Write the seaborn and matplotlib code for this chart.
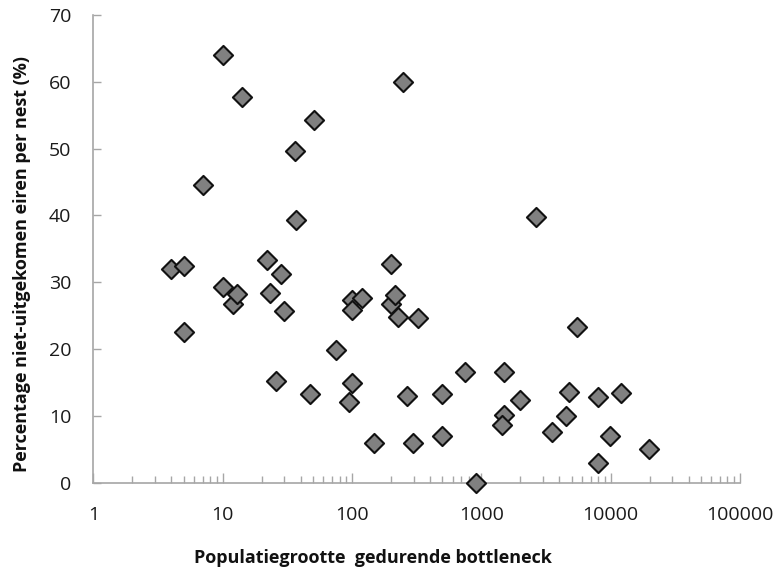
import numpy as np
import pandas as pd
import matplotlib
matplotlib.use("Agg")
import matplotlib.pyplot as plt
from matplotlib.ticker import LogLocator, FixedLocator, NullFormatter
import seaborn as sns

# Population size during the bottleneck and % of unhatched eggs per nest
population = [4, 5, 5, 7, 10, 10, 12, 13, 14, 22, 23, 28, 30, 26, 36, 37, 51, 47,
              75, 99, 120, 99, 99, 95, 148, 199, 199, 215, 228, 249, 323, 264, 297,
              747, 493, 493, 908, 1500, 1500, 1450, 1990, 2630, 3500, 4490, 4760,
              5460, 7980, 7980, 9880, 12000, 19900]
unhatched = [32.0, 32.5, 22.5, 44.6, 64.0, 29.3, 26.7, 28.2, 57.8, 33.3, 28.4, 31.2,
             25.7, 15.2, 49.7, 39.3, 54.3, 13.2, 19.9, 27.3, 27.6, 25.8, 14.9, 12.1,
             6.0, 32.8, 26.7, 28.1, 24.8, 60.0, 24.6, 13.0, 5.9, 16.5, 13.2, 7.0, 0.0,
             16.6, 10.1, 8.6, 12.4, 39.8, 7.6, 9.9, 13.6, 23.3, 12.8, 3.0, 7.0, 13.4,
             5.0]

x_ticks = [1, 10, 100, 1000, 10000, 100000]
y_ticks = [0, 10, 20, 30, 40, 50, 60, 70]

df = pd.DataFrame({"population": population, "unhatched": unhatched})

sns.set_style("white")
plt.rcParams["font.family"] = ["Open Sans", "DejaVu Sans"]

fig = plt.figure(figsize=(7.75, 5.69), dpi=100)
ax = fig.add_axes([0.1206, 0.1518, 0.8342, 0.8218])

sns.scatterplot(data=df, x="population", y="unhatched", ax=ax, marker="D",
                s=95, color="#808080", edgecolor="#111111", linewidth=1.5,
                zorder=3, clip_on=False)

ax.set_xscale("log")
ax.set_xlim(1, 100000)
ax.set_ylim(0, 70)
ax.xaxis.set_major_locator(FixedLocator(x_ticks))
ax.set_xticklabels([str(t) for t in x_ticks])
ax.xaxis.set_minor_locator(LogLocator(base=10, subs=np.arange(2, 10), numticks=20))
ax.xaxis.set_minor_formatter(NullFormatter())
ax.yaxis.set_major_locator(FixedLocator(y_ticks))
ax.set_yticklabels([str(t) for t in y_ticks])

spine_color = "#a6a6a6"
for side in ["top", "right"]:
    ax.spines[side].set_visible(False)
for side in ["left", "bottom"]:
    ax.spines[side].set_color(spine_color)
    ax.spines[side].set_linewidth(1.2)

ax.tick_params(axis="x", which="major", direction="in", length=7, width=1,
               color=spine_color, labelsize=14, pad=16.5, labelcolor="#1a1a1a")
ax.tick_params(axis="x", which="minor", direction="in", length=5, width=1,
               color=spine_color)
ax.tick_params(axis="y", which="major", direction="in", length=6, width=1,
               color=spine_color, labelsize=14, pad=16, labelcolor="#1a1a1a")
ax.yaxis.set_tick_params(which="major", left=True)
ax.xaxis.set_tick_params(which="both", bottom=True)

ax.set_xlabel("Populatiegrootte  gedurende bottleneck", fontsize=13,
              fontweight="bold", color="#111111", va="center", ha="center")
ax.set_ylabel("Percentage niet-uitgekomen eiren per nest (%)", fontsize=13,
              fontweight="bold", color="#111111", va="center", ha="center")
ax.xaxis.set_label_coords(0.432, -0.161)
ax.yaxis.set_label_coords(-0.1106, 0.4686)

fig.savefig("out.png", dpi=100, facecolor="white")
